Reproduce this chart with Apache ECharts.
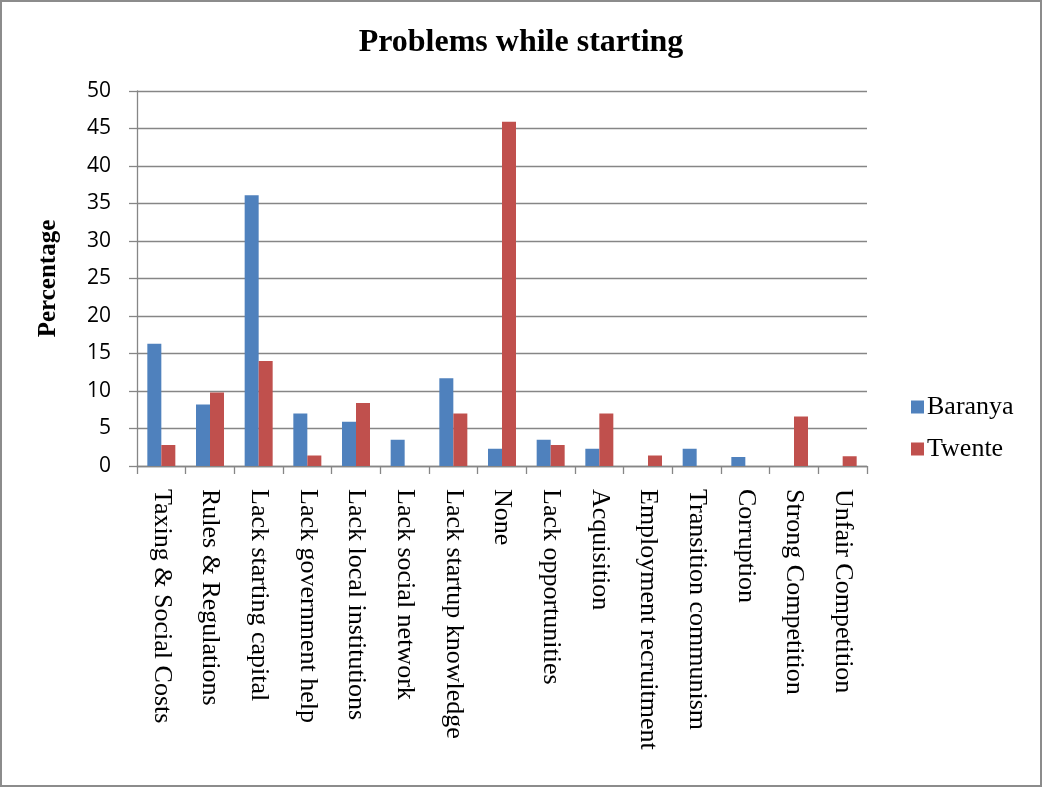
<!DOCTYPE html>
<html>
<head>
<meta charset="utf-8">
<style>
  html, body { margin: 0; padding: 0; background: #fff; }
  #chart { width: 1042px; height: 787px; }
</style>
<script src="https://cdn.jsdelivr.net/npm/echarts@6/dist/echarts.min.js"></script>
</head>
<body>
<div id="chart"></div>
<script>
// Problems reported when starting a business, by region (percent of respondents)
const categories = [
  'Taxing & Social Costs', 'Rules & Regulations', 'Lack starting capital',
  'Lack government help', 'Lack local institutions', 'Lack social network',
  'Lack startup knowledge', 'None', 'Lack opportunities', 'Acquisition',
  'Employment recruitment', 'Transition communism', 'Corruption',
  'Strong Competition', 'Unfair Competition'
];
const baranya = [16.3, 8.2, 36.1, 7.0, 5.9, 3.5, 11.7, 2.3, 3.5, 2.3, 0, 2.3, 1.2, 0, 0];
const twente  = [2.8, 9.8, 14.0, 1.4, 8.4, 0, 7.0, 45.9, 2.8, 7.0, 1.4, 0, 0, 6.6, 1.3];
const seriesNames = ['Baranya', 'Twente'];
const yTicks = { min: 0, max: 50, interval: 5 };

const serif = '"Liberation Serif", "Times New Roman", serif';
const axisGray = '#868686';

const chart = echarts.init(document.getElementById('chart'), null, { renderer: 'canvas' });
chart.setOption({
  animation: false,
  backgroundColor: '#fff',
  title: {
    text: 'Problems while starting',
    left: 'center',
    top: 22,
    textStyle: { fontFamily: serif, fontWeight: 'bold', fontSize: 32, color: '#000' }
  },
  legend: {
    data: seriesNames,
    orient: 'vertical',
    left: 906,
    top: 389,
    icon: 'rect',
    itemWidth: 13,
    itemHeight: 13,
    itemGap: 16,
    textStyle: { fontFamily: serif, fontSize: 26, color: '#000', padding: [0, 0, 0, -2] }
  },
  grid: { left: 137, right: 175, top: 91, bottom: 321, containLabel: false },
  xAxis: {
    type: 'category',
    data: categories,
    axisLine: { lineStyle: { color: axisGray, width: 1.3 } },
    axisTick: { show: true, length: 8, lineStyle: { color: axisGray, width: 1.3 } },
    axisLabel: {
      rotate: -90,
      interval: 0,
      margin: 23,
      fontFamily: serif,
      fontSize: 26,
      color: '#000'
    }
  },
  yAxis: {
    type: 'value',
    min: yTicks.min,
    max: yTicks.max,
    interval: yTicks.interval,
    name: 'Percentage',
    nameLocation: 'middle',
    nameGap: 76,
    nameRotate: 90,
    nameTextStyle: { fontFamily: serif, fontWeight: 'bold', fontSize: 25, color: '#000' },
    axisLine: { show: true, lineStyle: { color: axisGray, width: 1.3 } },
    axisTick: { show: true, length: 8, lineStyle: { color: axisGray, width: 1.3 } },
    axisLabel: { margin: 26, fontFamily: '"Open Sans", Lato, sans-serif', fontSize: 21, color: '#000' },
    splitLine: { show: true, lineStyle: { color: axisGray, width: 1.3 } }
  },
  series: [
    { name: seriesNames[0], type: 'bar', data: baranya, barWidth: 14, barGap: '0%',
      itemStyle: { color: '#4F81BD' } },
    { name: seriesNames[1], type: 'bar', data: twente, barWidth: 14, barGap: '0%',
      itemStyle: { color: '#C0504D' } }
  ],
  graphic: [{
    type: 'rect',
    shape: { x: 1, y: 1, width: 1040, height: 785 },
    style: { fill: 'none', stroke: '#8c8c8c', lineWidth: 2 },
    silent: true
  }]
});
</script>
</body>
</html>
